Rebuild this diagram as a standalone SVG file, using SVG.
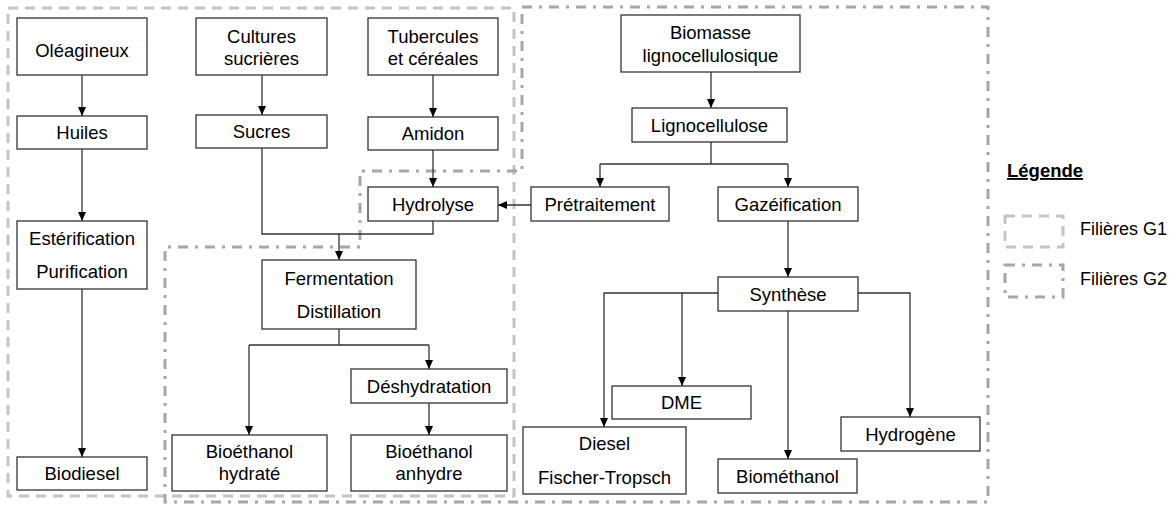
<svg xmlns="http://www.w3.org/2000/svg" width="1176" height="506" viewBox="0 0 1176 506">
  <style>
    .box { fill: #ffffff; stroke: #333333; stroke-width: 1.3; }
    .lbl { font-family: "Liberation Sans", Arial, sans-serif; font-size: 18.5px; fill: #000000; text-anchor: middle; }
    .leg { font-family: "Liberation Sans", Arial, sans-serif; font-size: 18px; fill: #000000; }
    .legtitle { font-family: "Liberation Sans", Arial, sans-serif; font-size: 18.5px; font-weight: bold; fill: #000000; text-decoration: underline; }
    .wire { fill: none; stroke: #333333; stroke-width: 1.3; }
    .arrow { marker-end: url(#head); }
    .g1 { fill: none; stroke: #c4c4c4; stroke-width: 3; stroke-dasharray: 10 7; }
    .g2 { fill: none; stroke: #a6a6a6; stroke-width: 3; stroke-dasharray: 10 7 3 7; }
  </style>
  <defs>
    <marker id="head" markerUnits="userSpaceOnUse" markerWidth="9" markerHeight="8" viewBox="0 0 9 8" refX="9" refY="4" orient="auto">
      <path d="M0,0 L9,4 L0,8 z" fill="#000000"/>
    </marker>
  </defs>
  <rect width="1176" height="506" fill="#ffffff"/>

  <!-- sector outlines -->
  <g id="outlines">
    <rect class="g1" x="8" y="8" width="506" height="488"/>
    <polygon class="g2" points="522,7 988,7 988,502 165,502 165,247 360,247 360,171 522,171"/>
  </g>

  <!-- connectors -->
  <g id="connectors">
    <path class="wire arrow" d="M82,75 V116"/>
    <path class="wire arrow" d="M82,149 V221"/>
    <path class="wire arrow" d="M82,289 V457"/>
    <path class="wire arrow" d="M262,75 V115"/>
    <path class="wire arrow" d="M433,75 V117"/>
    <path class="wire arrow" d="M433,150 V187"/>
    <path class="wire" d="M262,148 V234 H433 V221"/>
    <path class="wire arrow" d="M339,234 V260"/>
    <path class="wire arrow" d="M531,205 H498"/>
    <path class="wire arrow" d="M711,72 V108"/>
    <path class="wire" d="M711,142 V164 M600,164 H788"/>
    <path class="wire arrow" d="M600,164 V187"/>
    <path class="wire arrow" d="M788,164 V187"/>
    <path class="wire arrow" d="M788,221 V277"/>
    <path class="wire arrow" d="M718,293 H604 V427"/>
    <path class="wire arrow" d="M682,293 V386"/>
    <path class="wire arrow" d="M788,311 V459"/>
    <path class="wire arrow" d="M858,293 H910 V417"/>
    <path class="wire" d="M339,329 V345 M249,345 H429"/>
    <path class="wire arrow" d="M249,345 V435"/>
    <path class="wire arrow" d="M429,345 V369"/>
    <path class="wire arrow" d="M429,403 V435"/>
  </g>

  <!-- first-generation chain -->
  <g id="oleagineux"><rect class="box" x="17" y="18" width="130" height="57"/><text class="lbl" x="82" y="56.5">Oléagineux</text></g>
  <g id="huiles"><rect class="box" x="17" y="116" width="130" height="33"/><text class="lbl" x="82" y="138.5">Huiles</text></g>
  <g id="esterification"><rect class="box" x="17" y="221" width="130" height="68"/><text class="lbl" x="82" y="245">Estérification</text><text class="lbl" x="82" y="278">Purification</text></g>
  <g id="biodiesel"><rect class="box" x="17" y="457" width="130" height="33"/><text class="lbl" x="82" y="480">Biodiesel</text></g>
  <g id="cultures"><rect class="box" x="196" y="18" width="131" height="57"/><text class="lbl" x="261.5" y="43">Cultures</text><text class="lbl" x="261.5" y="65">sucrières</text></g>
  <g id="sucres"><rect class="box" x="196" y="115" width="131" height="33"/><text class="lbl" x="261.5" y="137.5">Sucres</text></g>
  <g id="tubercules"><rect class="box" x="368" y="18" width="130" height="57"/><text class="lbl" x="433" y="43">Tubercules</text><text class="lbl" x="433" y="65">et céréales</text></g>
  <g id="amidon"><rect class="box" x="368" y="117" width="130" height="33"/><text class="lbl" x="433" y="140">Amidon</text></g>
  <g id="hydrolyse"><rect class="box" x="368" y="187" width="130" height="34"/><text class="lbl" x="433" y="210.5">Hydrolyse</text></g>
  <g id="fermentation"><rect class="box" x="262" y="260" width="154" height="69"/><text class="lbl" x="339" y="285">Fermentation</text><text class="lbl" x="339" y="318">Distillation</text></g>
  <g id="deshydratation"><rect class="box" x="351" y="369" width="156" height="34"/><text class="lbl" x="429" y="393">Déshydratation</text></g>
  <g id="bioethanol-hydrate"><rect class="box" x="172" y="435" width="155" height="56"/><text class="lbl" x="249.5" y="458">Bioéthanol</text><text class="lbl" x="249.5" y="480">hydraté</text></g>
  <g id="bioethanol-anhydre"><rect class="box" x="351" y="435" width="156" height="56"/><text class="lbl" x="429" y="458">Bioéthanol</text><text class="lbl" x="429" y="480">anhydre</text></g>

  <!-- second-generation chain -->
  <g id="biomasse"><rect class="box" x="621" y="15" width="179" height="57"/><text class="lbl" x="710.5" y="39">Biomasse</text><text class="lbl" x="710.5" y="62">lignocellulosique</text></g>
  <g id="lignocellulose"><rect class="box" x="632" y="108" width="155" height="34"/><text class="lbl" x="709.5" y="131.5">Lignocellulose</text></g>
  <g id="pretraitement"><rect class="box" x="531" y="187" width="138" height="34"/><text class="lbl" x="600" y="211">Prétraitement</text></g>
  <g id="gazeification"><rect class="box" x="718" y="187" width="140" height="34"/><text class="lbl" x="788" y="211">Gazéification</text></g>
  <g id="synthese"><rect class="box" x="718" y="277" width="140" height="34"/><text class="lbl" x="788" y="301">Synthèse</text></g>
  <g id="dme"><rect class="box" x="612" y="386" width="139" height="33"/><text class="lbl" x="681.5" y="409">DME</text></g>
  <g id="diesel-ft"><rect class="box" x="523" y="427" width="163" height="67"/><text class="lbl" x="604.5" y="450">Diesel</text><text class="lbl" x="604.5" y="484">Fischer-Tropsch</text></g>
  <g id="biomethanol"><rect class="box" x="718" y="459" width="139" height="34"/><text class="lbl" x="787.5" y="483">Biométhanol</text></g>
  <g id="hydrogene"><rect class="box" x="841" y="417" width="139" height="34"/><text class="lbl" x="910.5" y="441">Hydrogène</text></g>

  <!-- legend -->
  <g id="legende">
    <text class="legtitle" x="1007" y="177">Légende</text>
    <rect class="g1" x="1005" y="216" width="58" height="31"/>
    <text class="leg" x="1080" y="234.5">Filières G1</text>
    <rect class="g2" x="1005" y="265" width="58" height="32"/>
    <text class="leg" x="1080" y="285">Filières G2</text>
  </g>
</svg>
